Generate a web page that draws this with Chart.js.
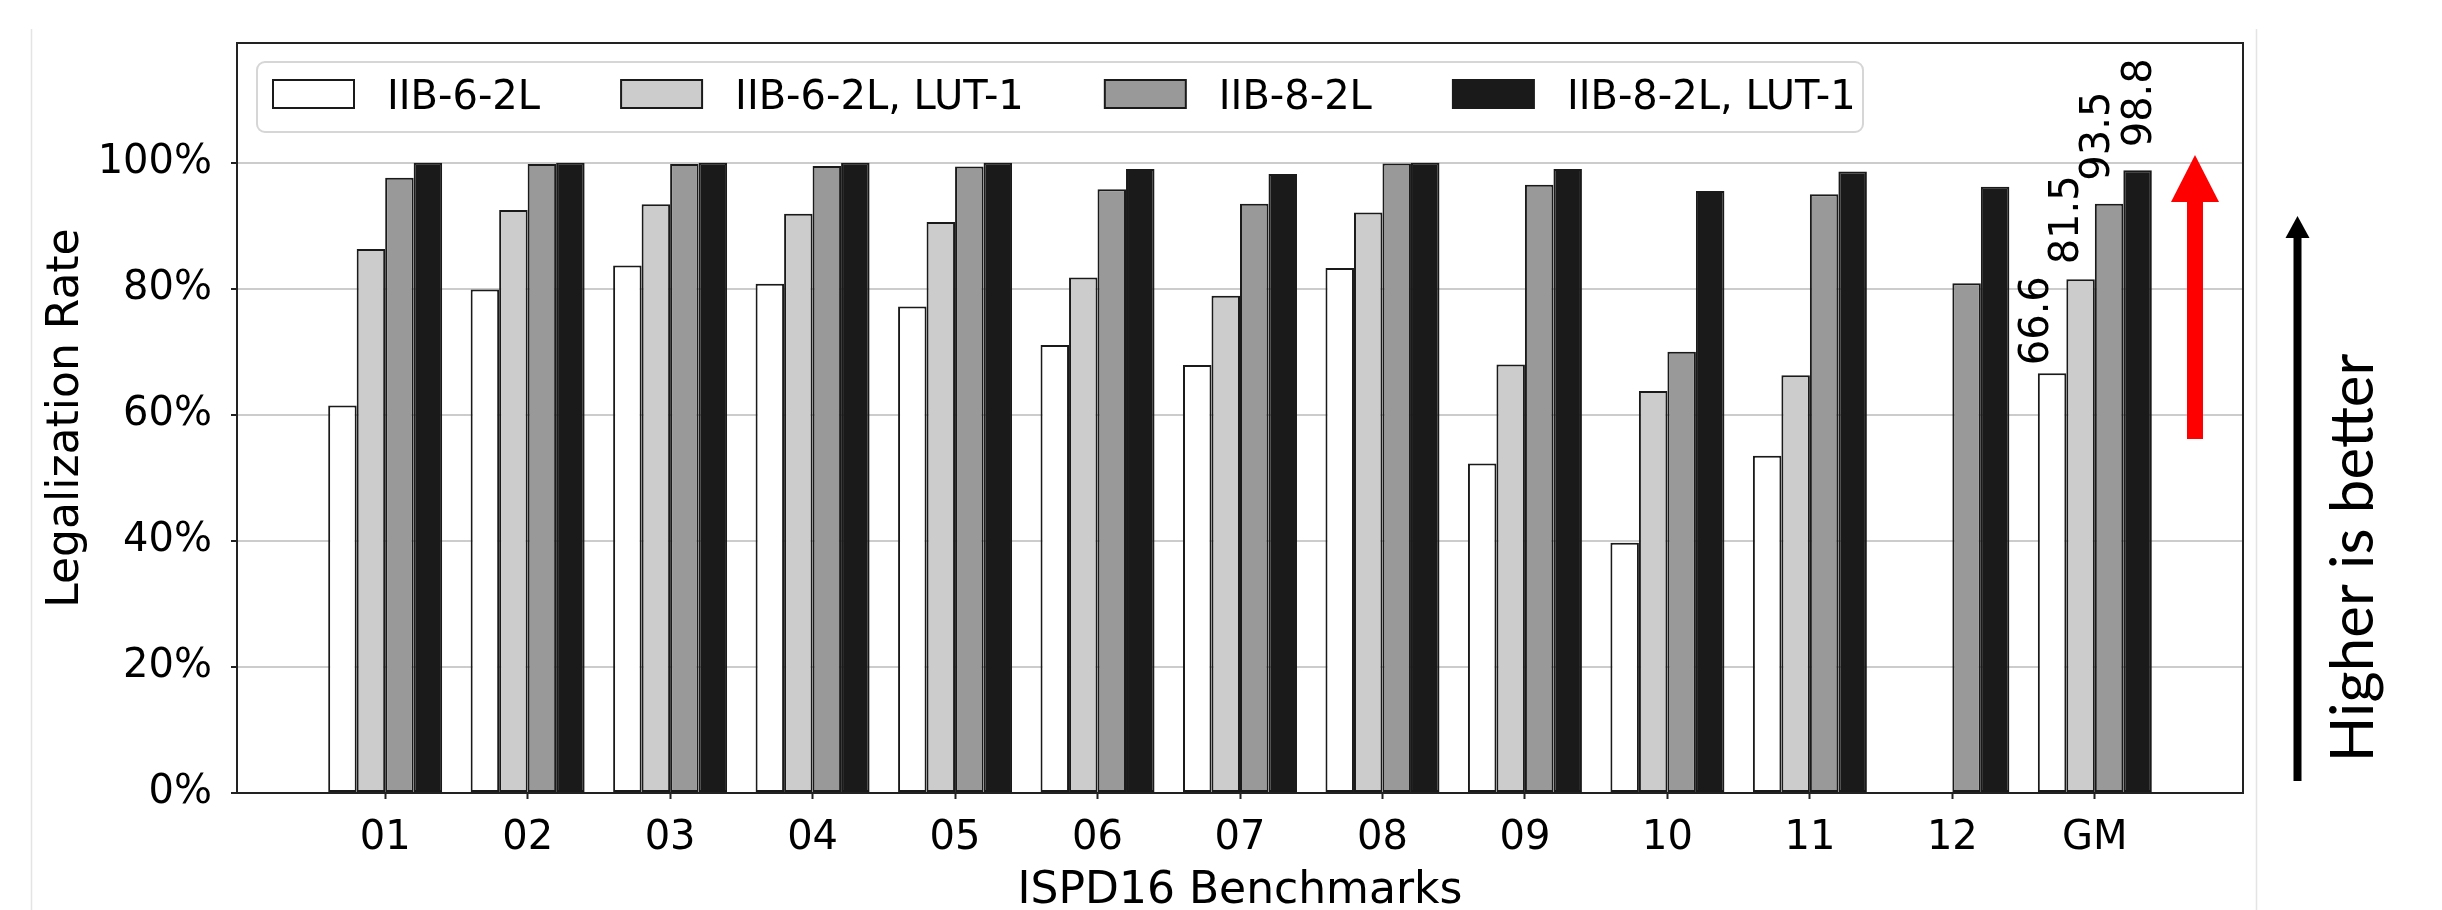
<!DOCTYPE html>
<html lang="en">
<head>
<meta charset="UTF-8">
<title>Legalization Rate - ISPD16</title>
<script src="https://cdn.jsdelivr.net/npm/chart.js"></script>
<style>
    html, body { margin: 0; padding: 0; background: #fff; }
    #wrap { width: 2442px; height: 910px; position: relative; }
</style>
</head>
<body>

<div id="wrap"><canvas id="chart" width="2442" height="910"></canvas></div>

<script>
    const benchmarks = ['01', '02', '03', '04', '05', '06', '07', '08', '09', '10', '11', '12', 'GM'];
    const iib6     = [61.5, 79.9, 83.7, 80.8, 77.2, 71.1, 67.9, 83.3, 52.3, 39.7, 53.5, 0, 66.6];
    const iib6Lut  = [86.3, 92.5, 93.4, 91.9, 90.6, 81.8, 78.9, 92.1, 68.0, 63.8, 66.3, 0, 81.5];
    const iib8     = [97.6, 99.8, 99.8, 99.5, 99.4, 95.8, 93.5, 99.9, 96.5, 70.0, 95.0, 80.9, 93.5];
    const iib8Lut  = [100, 100, 100, 100, 100, 99.0, 98.2, 100, 99.0, 95.5, 98.6, 96.2, 98.8];
    const seriesNames = ['IIB-6-2L', 'IIB-6-2L, LUT-1', 'IIB-8-2L', 'IIB-8-2L, LUT-1'];
    const yTicks = [0, 20, 40, 60, 80, 100];

    const barColors = ['#ffffff', '#cccccc', '#999999', '#1a1a1a'];
    const FONT = "'DejaVu Sans', sans-serif";

    // small nudges for the rotated GM labels (px): right of bar left edge, above bar top
    const gmShiftX = [0, 1, 4, 17];
    const gmShiftY = [8, 15, 23, 23];

    const series = [iib6, iib6Lut, iib8, iib8Lut];

    const datasets = series.map((vals, i) => ({
        label: seriesNames[i],
        data: vals.map((v, j) => ({ x: j, y: v })),
        backgroundColor: barColors[i],
        borderColor: '#1a1a1a',
        borderWidth: 2,
        borderSkipped: false,
        barPercentage: 1.0,
        categoryPercentage: 0.8
    }));

    // frame around the plot area
    const framePlugin = {
        id: 'frame',
        afterDraw(chart) {
            const { ctx, chartArea: a } = chart;
            ctx.save();
            ctx.strokeStyle = '#222';
            ctx.lineWidth = 2;
            ctx.strokeRect(a.left, a.top, a.right - a.left, a.bottom - a.top);
            ctx.restore();
        }
    };

    // GM value labels, rotated
    const gmLabels = {
        id: 'gmLabels',
        afterDatasetsDraw(chart) {
            const ctx = chart.ctx;
            const idx = benchmarks.length - 1;
            ctx.save();
            ctx.font = '40px ' + FONT;
            ctx.fillStyle = '#000';
            ctx.textAlign = 'left';
            ctx.textBaseline = 'middle';
            chart.data.datasets.forEach((ds, i) => {
                const bar = chart.getDatasetMeta(i).data[idx];
                const left = bar.x - bar.width / 2;
                ctx.save();
                ctx.translate(left + gmShiftX[i], bar.y - gmShiftY[i]);
                ctx.rotate(-Math.PI / 2);
                ctx.fillText(ds.data[idx].y.toFixed(1), 0, 0);
                ctx.restore();
            });
            ctx.restore();
        }
    };

    // legend drawn inside the axes, matplotlib style
    const boxLegend = {
        id: 'boxLegend',
        afterDraw(chart) {
            const ctx = chart.ctx;
            ctx.save();
            ctx.font = '40px ' + FONT;
            const fx = 257, fy = 62, fw = 1606, fh = 70;
            ctx.beginPath();
            ctx.roundRect(fx, fy, fw, fh, 8);
            ctx.fillStyle = 'rgba(255,255,255,0.8)';
            ctx.fill();
            ctx.strokeStyle = '#d6d6d6';
            ctx.lineWidth = 2;
            ctx.stroke();

            let x = 273;
            chart.data.datasets.forEach(ds => {
                ctx.fillStyle = ds.backgroundColor;
                ctx.fillRect(x, 80, 81, 28);
                ctx.strokeStyle = '#1a1a1a';
                ctx.lineWidth = 2;
                ctx.strokeRect(x, 80, 81, 28);
                ctx.fillStyle = '#000';
                ctx.textBaseline = 'alphabetic';
                ctx.textAlign = 'left';
                const tx = x + 81 + 33;
                ctx.fillText(ds.label, tx, 109);
                x = tx + ctx.measureText(ds.label).width + 81;
            });
            ctx.restore();
        }
    };

    // arrows, side note and the faint page edges
    const extras = {
        id: 'extras',
        afterDraw(chart) {
            const ctx = chart.ctx;
            ctx.save();

            ctx.strokeStyle = '#e4e4e4';
            ctx.lineWidth = 1.5;
            ctx.beginPath();
            ctx.moveTo(31.5, 29); ctx.lineTo(31.5, 910);
            ctx.moveTo(2256.5, 29); ctx.lineTo(2256.5, 910);
            ctx.stroke();

            // red arrow
            ctx.fillStyle = '#ff0000';
            ctx.fillRect(2187, 200, 16, 239);
            ctx.beginPath();
            ctx.moveTo(2195, 155);
            ctx.lineTo(2219, 202);
            ctx.lineTo(2171, 202);
            ctx.closePath();
            ctx.fill();

            // black arrow
            ctx.fillStyle = '#000';
            ctx.fillRect(2293.5, 236, 8, 545);
            ctx.beginPath();
            ctx.moveTo(2297.5, 216);
            ctx.lineTo(2309.5, 238);
            ctx.lineTo(2285.5, 238);
            ctx.closePath();
            ctx.fill();

            ctx.translate(2373, 558);
            ctx.rotate(-Math.PI / 2);
            ctx.font = "60px Lato, 'Open Sans', sans-serif";
            ctx.textAlign = 'center';
            ctx.textBaseline = 'alphabetic';
            ctx.fillText('Higher is better', 0, 0);
            ctx.restore();
        }
    };

    new Chart(document.getElementById('chart'), {
        type: 'bar',
        data: { datasets: datasets },
        options: {
            responsive: false,
            animation: false,
            devicePixelRatio: 1,
            layout: { padding: { left: 0, top: 41, right: 199, bottom: 0 } },
            plugins: {
                legend: { display: false },
                tooltip: { enabled: false }
            },
            scales: {
                x: {
                    type: 'linear',
                    offset: false,
                    min: -1.04,
                    max: 13.04,
                    afterBuildTicks: scale => {
                        scale.ticks = benchmarks.map((_, i) => ({ value: i }));
                    },
                    afterFit: scale => { scale.height = 117; },
                    grid: {
                        offset: false,
                        drawOnChartArea: false,
                        tickLength: 6,
                        tickColor: '#222',
                        tickWidth: 2
                    },
                    border: { display: false },
                    ticks: {
                        autoSkip: false,
                        maxRotation: 0,
                        padding: 16,
                        color: '#000',
                        font: { family: FONT, size: 40 },
                        callback: v => benchmarks[v]
                    },
                    title: {
                        display: true,
                        text: 'ISPD16 Benchmarks',
                        color: '#000',
                        font: { family: FONT, size: 44, lineHeight: 1 },
                        padding: { top: 0, bottom: -4 }
                    }
                },
                y: {
                    min: 0,
                    max: 119,
                    afterBuildTicks: scale => {
                        scale.ticks = yTicks.map(v => ({ value: v }));
                    },
                    afterFit: scale => { scale.width = 237; },
                    grid: {
                        color: '#cccccc',
                        lineWidth: 2,
                        tickLength: 6,
                        tickColor: '#222',
                        tickWidth: 2
                    },
                    border: { display: false },
                    ticks: {
                        padding: 19,
                        color: '#000',
                        font: { family: FONT, size: 40 },
                        callback: v => v + '%'
                    },
                    title: {
                        display: true,
                        text: 'Legalization Rate',
                        color: '#000',
                        font: { family: FONT, size: 44, lineHeight: 1 },
                        padding: { top: 45, bottom: 0 }
                    }
                }
            }
        },
        plugins: [gmLabels, framePlugin, boxLegend, extras]
    });
</script>

</body>
</html>
